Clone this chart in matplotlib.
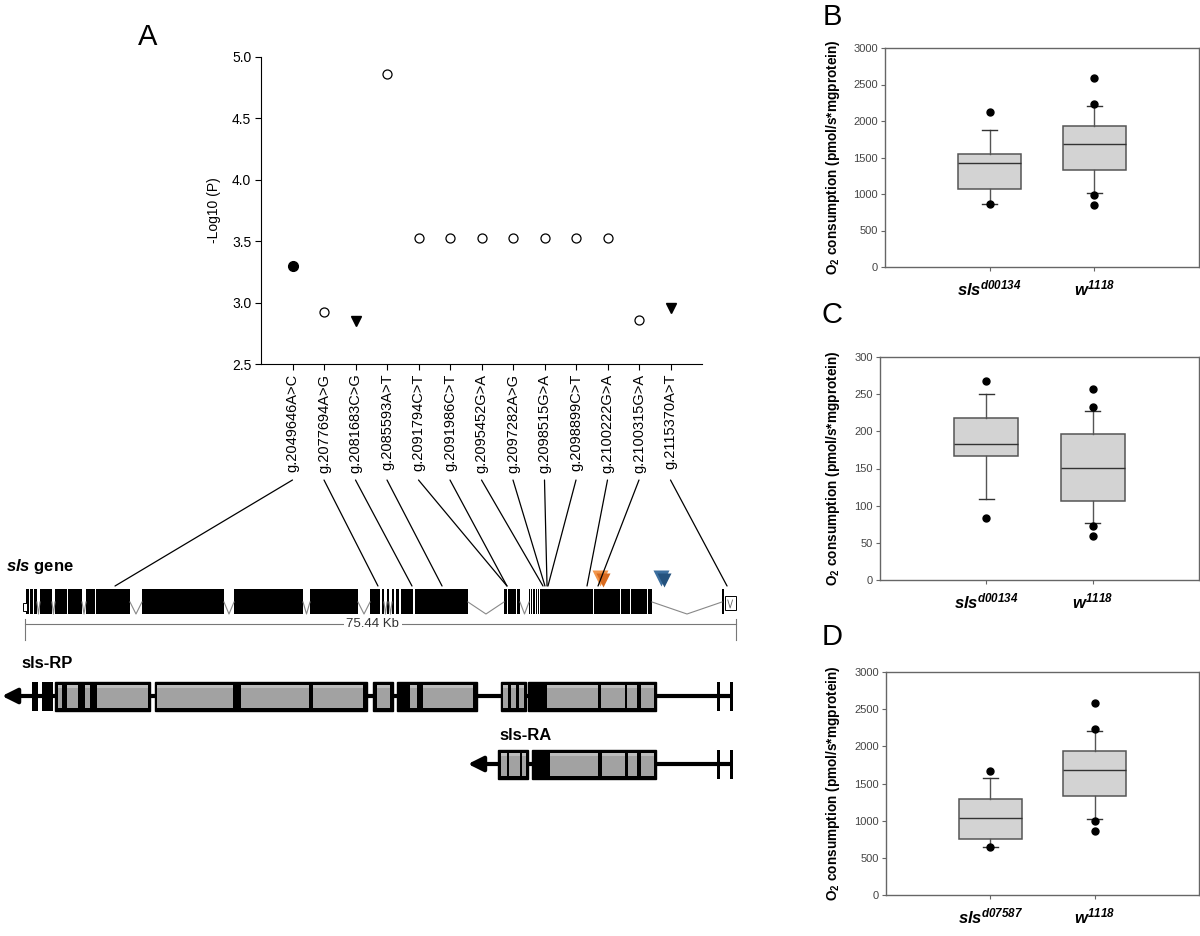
import matplotlib
matplotlib.use("Agg")
import matplotlib.pyplot as plt
from matplotlib.patches import Rectangle, ConnectionPatch
from matplotlib.transforms import blended_transform_factory

plt.rcParams['font.family'] = ['Liberation Sans', 'DejaVu Sans']
plt.rcParams['mathtext.fontset'] = 'custom'
plt.rcParams['mathtext.it'] = 'Liberation Sans:italic:bold'
plt.rcParams['mathtext.sf'] = 'Liberation Sans:italic:bold'
plt.rcParams['mathtext.rm'] = 'Liberation Sans:bold'
plt.rcParams['mathtext.bf'] = 'Liberation Sans:bold'

# ---- panel A: association scan ----
snp_labels = ['g.2049646A>C', 'g.2077694A>G', 'g.2081683C>G', 'g.2085593A>T',
              'g.2091794C>T', 'g.2091986C>T', 'g.2095452G>A', 'g.2097282A>G',
              'g.2098515G>A', 'g.2098899C>T', 'g.2100222G>A', 'g.2100315G>A',
              'g.2115370A>T']
neglog_p = [3.30, 2.92, 2.85, 4.86, 3.53, 3.53, 3.53, 3.53, 3.53, 3.53, 3.53, 2.86, 2.96]
snp_kind = ['filled', 'open', 'tri', 'open', 'open', 'open', 'open', 'open',
            'open', 'open', 'open', 'open', 'tri']
# where each SNP points on the gene (kb along the 75.44 kb gene)
snp_gene_kb = [9.55, 37.45, 41.06, 44.25, 51.14, 51.14, 54.96, 55.17, 55.39,
               55.49, 59.63, 60.80, 74.49]

# ---- gene model (kb) ----
gene_len = 75.44
gene_exons = [(0.11, 0.42), (0.53, 0.85), (0.95, 1.27), (1.59, 2.86), (3.18, 4.46),
              (4.56, 6.05), (6.47, 7.43), (7.53, 11.14), (12.41, 21.11), (22.18, 29.50),
              (30.24, 35.33), (36.61, 37.67), (37.88, 38.09), (38.41, 38.62),
              (38.94, 39.15), (39.36, 39.68), (39.89, 41.17), (41.38, 47.00),
              (50.82, 51.14), (51.25, 52.10), (52.20, 52.52), (53.48, 53.58),
              (53.69, 53.79), (53.90, 54.11), (54.22, 54.32), (54.43, 54.53),
              (54.64, 60.27), (60.37, 63.13), (63.24, 64.19), (64.30, 65.99),
              (66.10, 66.53), (73.95, 74.17)]
gene_utr = [(-0.20, 0.20), (74.27, 75.44)]
orange_kb = 61.0
blue_kb = 67.5

rp_arrow = (0.74, -2.44)
rp_bars = [(0.74, 1.38), (1.80, 2.97)]
rp_boxes = [(3.18, 13.26), (13.79, 36.29), (36.92, 39.05), (39.47, 47.96),
            (50.50, 53.16), (53.37, 66.95)]
rp_grey = [(3.50, 3.93), (4.46, 5.62), (6.37, 6.90), (7.64, 13.05),
           (14.01, 22.07), (22.92, 30.13), (30.56, 35.86), (37.35, 38.73),
           (40.85, 41.59), (42.23, 47.53), (50.72, 51.25), (51.57, 52.10),
           (52.42, 52.95), (55.39, 60.80), (61.12, 63.66), (63.87, 64.93),
           (65.36, 66.74)]
ra_arrow = (50.19, 47.00)
ra_bars = []
ra_boxes = [(50.19, 53.37), (53.79, 66.95)]
ra_grey = [(50.50, 51.14), (51.35, 52.52), (52.73, 53.16), (55.70, 60.80),
           (61.22, 63.66), (63.98, 64.93), (65.36, 66.74)]
end_bars = [(73.42, 73.74), (74.80, 75.12)]

# ---- panels B-D: O2 consumption boxplots ----
b_names = [r'$\mathsf{sls}^{\mathsf{d00134}}$', r'$\mathsf{w}^{\mathsf{1118}}$']
b_q1 = [1068, 1324]
b_med = [1425, 1680]
b_q3 = [1553, 1936]
b_lo = [863, 1014]
b_hi = [1872, 2205]
b_out = [[2125, 858], [2588, 2228, 990, 855]]

c_names = [r'$\mathsf{sls}^{\mathsf{d00134}}$', r'$\mathsf{w}^{\mathsf{1118}}$']
c_q1 = [166.6, 106.0]
c_med = [183.0, 150.4]
c_q3 = [218.0, 195.8]
c_lo = [108.7, 76.3]
c_hi = [250.0, 227.0]
c_out = [[268.0, 83.5], [256.8, 232.6, 73.2, 59.3]]

d_names = [r'$\mathsf{sls}^{\mathsf{d07587}}$', r'$\mathsf{w}^{\mathsf{1118}}$']
d_q1 = [758, 1327]
d_med = [1040, 1682]
d_q3 = [1291, 1937]
d_lo = [650, 1018]
d_hi = [1578, 2211]
d_out = [[1664, 650], [2587, 2233, 991, 857]]

W, H = 1200, 936
fig = plt.figure(figsize=(12, 9.36), dpi=100)


def fig_rect(l, t, r, b):
    return [l / W, 1 - b / H, (r - l) / W, (b - t) / H]


# ---------------- panel A scatter ----------------
axa = fig.add_axes(fig_rect(261, 57, 702, 364))
for i, (v, kind) in enumerate(zip(neglog_p, snp_kind)):
    if kind == 'filled':
        axa.plot(i, v, 'o', color='black', ms=7)
    elif kind == 'tri':
        axa.plot(i, v, 'v', color='black', ms=7)
    else:
        axa.plot(i, v, 'o', mfc='white', mec='black', mew=0.9, ms=6.5)
axa.set_xlim(-1, 13)
axa.set_ylim(2.5, 5.0)
axa.set_yticks([2.5, 3.0, 3.5, 4.0, 4.5, 5.0])
axa.set_yticklabels(['%.1f' % t for t in [2.5, 3.0, 3.5, 4.0, 4.5, 5.0]])
axa.set_xticks(range(len(snp_labels)))
axa.set_xticklabels(snp_labels, rotation=90)
axa.spines['top'].set_visible(False)
axa.spines['right'].set_visible(False)
axa.tick_params(direction='out', length=4, width=0.8, labelsize=10.5, pad=3)
axa.tick_params(axis='y', labelsize=10)
axa.set_ylabel('-Log10 (P)', fontsize=10)
axa.yaxis.set_label_coords(-0.09, 0.5)

# ---------------- gene diagram ----------------
kpp = gene_len / 711.0
axg = fig.add_axes(fig_rect(0, 540, 760, 800))
axg.set_xlim(-25 * kpp, 735 * kpp)
axg.set_ylim(800, 540)
axg.axis('off')

g_top, g_bot, g_mid = 589, 614, 602
for s, e in gene_exons:
    axg.add_patch(Rectangle((s, g_top), e - s, g_bot - g_top, fc='black', ec='none'))
for (s0, e0), (s1, e1) in zip(gene_exons[:-1], gene_exons[1:]):
    if s1 - e0 > 0.25:
        axg.plot([e0, (e0 + s1) / 2, s1], [g_mid, g_bot, g_mid], color='#888888', lw=0.8)
axg.add_patch(Rectangle((gene_utr[0][0], 603), gene_utr[0][1] - gene_utr[0][0], 8,
                        fc='white', ec='black', lw=0.7))
axg.add_patch(Rectangle((gene_utr[1][0], 596), gene_utr[1][1] - gene_utr[1][0], 14,
                        fc='white', ec='black', lw=0.7))
axg.plot([gene_utr[1][0] + 0.3, gene_utr[1][0] + 0.55, gene_utr[1][0] + 0.8],
         [600, 608, 600], color='#666666', lw=0.6)
axg.text(-2.0, 567, r'$sls$ gene', fontsize=12, fontweight='bold', va='center', ha='left')

# scale bar
axg.plot([0, gene_len], [624, 624], color='#777777', lw=0.8)
axg.plot([0, 0], [619, 640], color='#777777', lw=0.8)
axg.plot([gene_len, gene_len], [619, 640], color='#777777', lw=0.8)
axg.text(36.9, 624, '75.44 Kb', fontsize=9.5, color='#333333', ha='center', va='center',
         bbox=dict(fc='white', ec='none', pad=2))

# insertion sites
axg.plot(orange_kb, 578, 'v', color='#f2954a', ms=12, mec='none')
axg.plot(orange_kb + 0.35, 580, 'v', color='#d86a1e', ms=10, mec='none')
axg.plot(blue_kb, 578, 'v', color='#3c6f9f', ms=12, mec='none')
axg.plot(blue_kb + 0.35, 580, 'v', color='#24527e', ms=10, mec='none')


def draw_transcript(yc, arrow, bars, boxes, greys):
    h = 29
    top = yc - h / 2
    axg.plot([arrow[0], end_bars[-1][1]], [yc, yc], color='black', lw=3,
             solid_capstyle='butt', zorder=1)
    axg.annotate('', xy=(arrow[1], yc), xytext=(arrow[0] + 0.1, yc),
                 arrowprops=dict(arrowstyle='-|>,head_length=0.9,head_width=0.45',
                                 lw=3, color='black', shrinkA=0, shrinkB=0))
    for s, e in bars + end_bars:
        axg.add_patch(Rectangle((s, top), e - s, h, fc='black', ec='none', zorder=2))
    for s, e in boxes:
        axg.add_patch(Rectangle((s, top), e - s, h, fc='black', ec='black', lw=1, zorder=2))
    for s, e in greys:
        axg.add_patch(Rectangle((s, top + 3), e - s, h - 6, fc='#a2a2a2', ec='none', zorder=3))
        axg.add_patch(Rectangle((s, top + 3.5), e - s, 3, fc='#bcbcbc', ec='none', zorder=3))


draw_transcript(696, rp_arrow, rp_bars, rp_boxes, rp_grey)
draw_transcript(764, ra_arrow, ra_bars, ra_boxes, ra_grey)
axg.text(-0.4, 663, 'sls-RP', fontsize=12, fontweight='bold', va='center', ha='left')
axg.text((499 - 25) * kpp, 735, 'sls-RA', fontsize=12, fontweight='bold', va='center', ha='left')

# connectors from SNP labels to gene
trans_a = blended_transform_factory(axa.transData, fig.transFigure)
for i, kb in enumerate(snp_gene_kb):
    con = ConnectionPatch(xyA=(i, 1 - 480 / H), coordsA=trans_a,
                          xyB=(kb, 586), coordsB=axg.transData,
                          color='black', lw=0.9)
    fig.add_artist(con)


# ---------------- box panels ----------------
def box_panel(rect, names, q1, med, q3, lo, hi, outs, ymax, ystep, lab_x):
    ax = fig.add_axes(fig_rect(*rect))
    stats = []
    for k in range(len(names)):
        stats.append(dict(q1=q1[k], med=med[k], q3=q3[k], whislo=lo[k], whishi=hi[k],
                          fliers=outs[k]))
    ax.bxp(stats, positions=[1, 2], widths=0.6, capwidths=0.14, patch_artist=True,
           boxprops=dict(facecolor='#d3d3d3', edgecolor='#555555', lw=1.1),
           medianprops=dict(color='#333333', lw=1),
           whiskerprops=dict(color='#555555', lw=1),
           capprops=dict(color='#333333', lw=1),
           flierprops=dict(marker='o', mfc='black', mec='black', ms=5))
    ax.set_xlim(0, 3)
    ax.set_ylim(0, ymax)
    ax.set_yticks([ystep * j for j in range(7)])
    ax.set_xticks([1, 2])
    ax.set_xticklabels(names, fontsize=12)
    for sp in ax.spines.values():
        sp.set_color('#666666')
        sp.set_linewidth(1)
    ax.tick_params(axis='y', direction='out', length=3, width=0.8, colors='#666666',
                   labelcolor='#444444', labelsize=8, pad=2)
    ax.tick_params(axis='x', direction='out', length=3, width=0.8, colors='#666666',
                   labelcolor='black', pad=5)
    ax.set_ylabel(r'O$_2$ consumption (pmol/s*mgprotein)', fontsize=9.8, fontweight='bold')
    ax.yaxis.set_label_coords(lab_x, 0.5)
    return ax


box_panel((885, 48, 1199, 267), b_names, b_q1, b_med, b_q3, b_lo, b_hi, b_out, 3000, 500, -0.137)
box_panel((880, 357, 1199, 580), c_names, c_q1, c_med, c_q3, c_lo, c_hi, c_out, 300, 50, -0.119)
box_panel((886, 672, 1199, 895), d_names, d_q1, d_med, d_q3, d_lo, d_hi, d_out, 3000, 500, -0.141)

# panel letters
for letter, (px, py) in zip('ABCD', [(148, 37), (832, 17), (832, 315), (832, 637)]):
    fig.text(px / W, 1 - py / H, letter, fontsize=21, ha='center', va='center')

fig.savefig('out.png', dpi=100)
